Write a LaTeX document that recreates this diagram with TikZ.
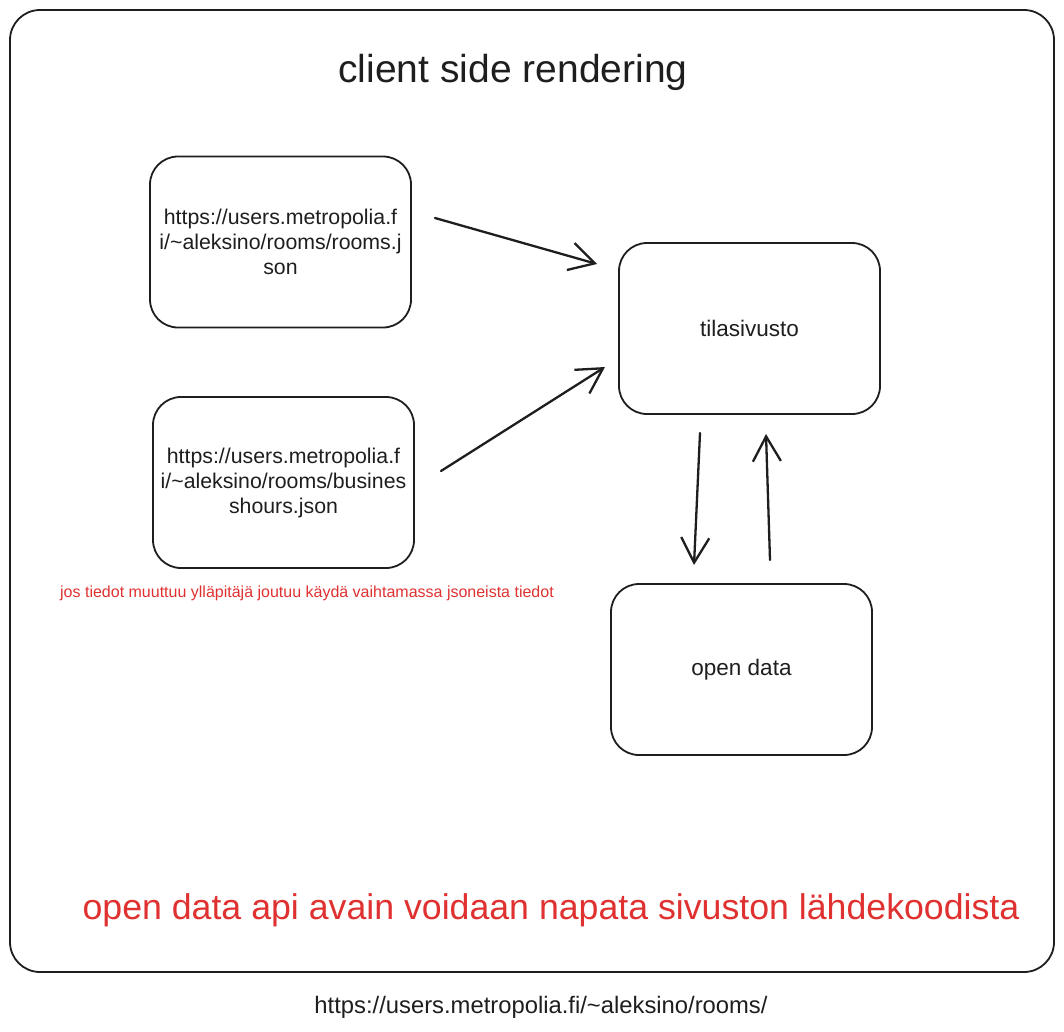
\documentclass[tikz,border=0pt]{standalone}
\usepackage{fontspec}
\setmainfont{Liberation Sans}
\usetikzlibrary{arrows.meta}
\definecolor{ink}{HTML}{1E1E1E}
\definecolor{redink}{HTML}{E03131}
\tikzset{
  box/.style={draw=ink, line width=1.8pt, rounded corners=28pt, inner sep=0pt, minimum width=261pt, minimum height=171pt, align=center, font=\fontsize{21.3}{25}\selectfont, text=ink},
  conn/.style={draw=ink, line width=2.3pt, line cap=round, -{Straight Barb[length=25pt, width=28pt, line width=2.3pt]}},
}
\begin{document}
\begin{tikzpicture}[x=1pt,y=-1pt]
\useasboundingbox (0,0) rectangle (1064,1031);
\draw[ink, line width=1.8pt, rounded corners=30pt] (10,10) rectangle (1054,972);
\node[font=\fontsize{39}{42}\selectfont, text=ink] (title) at (513,72) {client side rendering};
\node[box] (rooms) at (280.5,242) {https://users.metropolia.f\\i/\textasciitilde aleksino/rooms/rooms.j\\son};
\node[box] (hours) at (283.5,482.5) {https://users.metropolia.f\\i/\textasciitilde aleksino/rooms/busines\\shours.json};
\node[box, font=\fontsize{22.5}{25}\selectfont] (tila) at (749.5,328.5) {tilasivusto};
\node[box, font=\fontsize{22.5}{25}\selectfont] (open) at (741.5,669.5) {open data};
\node[text=redink, font=\fontsize{16}{18}\selectfont] (note) at (307,593) {jos tiedot muuttuu ylläpitäjä joutuu käydä vaihtamassa jsoneista tiedot};
\node[text=redink, font=\fontsize{35.7}{40}\selectfont] (api) at (551,910) {open data api avain voidaan napata sivuston lähdekoodista};
\node[text=ink, font=\fontsize{23.8}{26}\selectfont] (url) at (541,1007) {https://users.metropolia.fi/\textasciitilde aleksino/rooms/};
\coordinate (a1) at (435,218);
\coordinate (a2) at (597,264);
\coordinate (b1) at (441,471);
\coordinate (b2) at (605,367);
\coordinate (c1) at (700,433);
\coordinate (c2) at (694,565);
\coordinate (d1) at (770,560);
\coordinate (d2) at (766,434);
\draw[conn] (a1) -- (a2);
\draw[conn] (b1) -- (b2);
\draw[conn] (c1) -- (c2);
\draw[conn] (d1) -- (d2);
\end{tikzpicture}
\end{document}
